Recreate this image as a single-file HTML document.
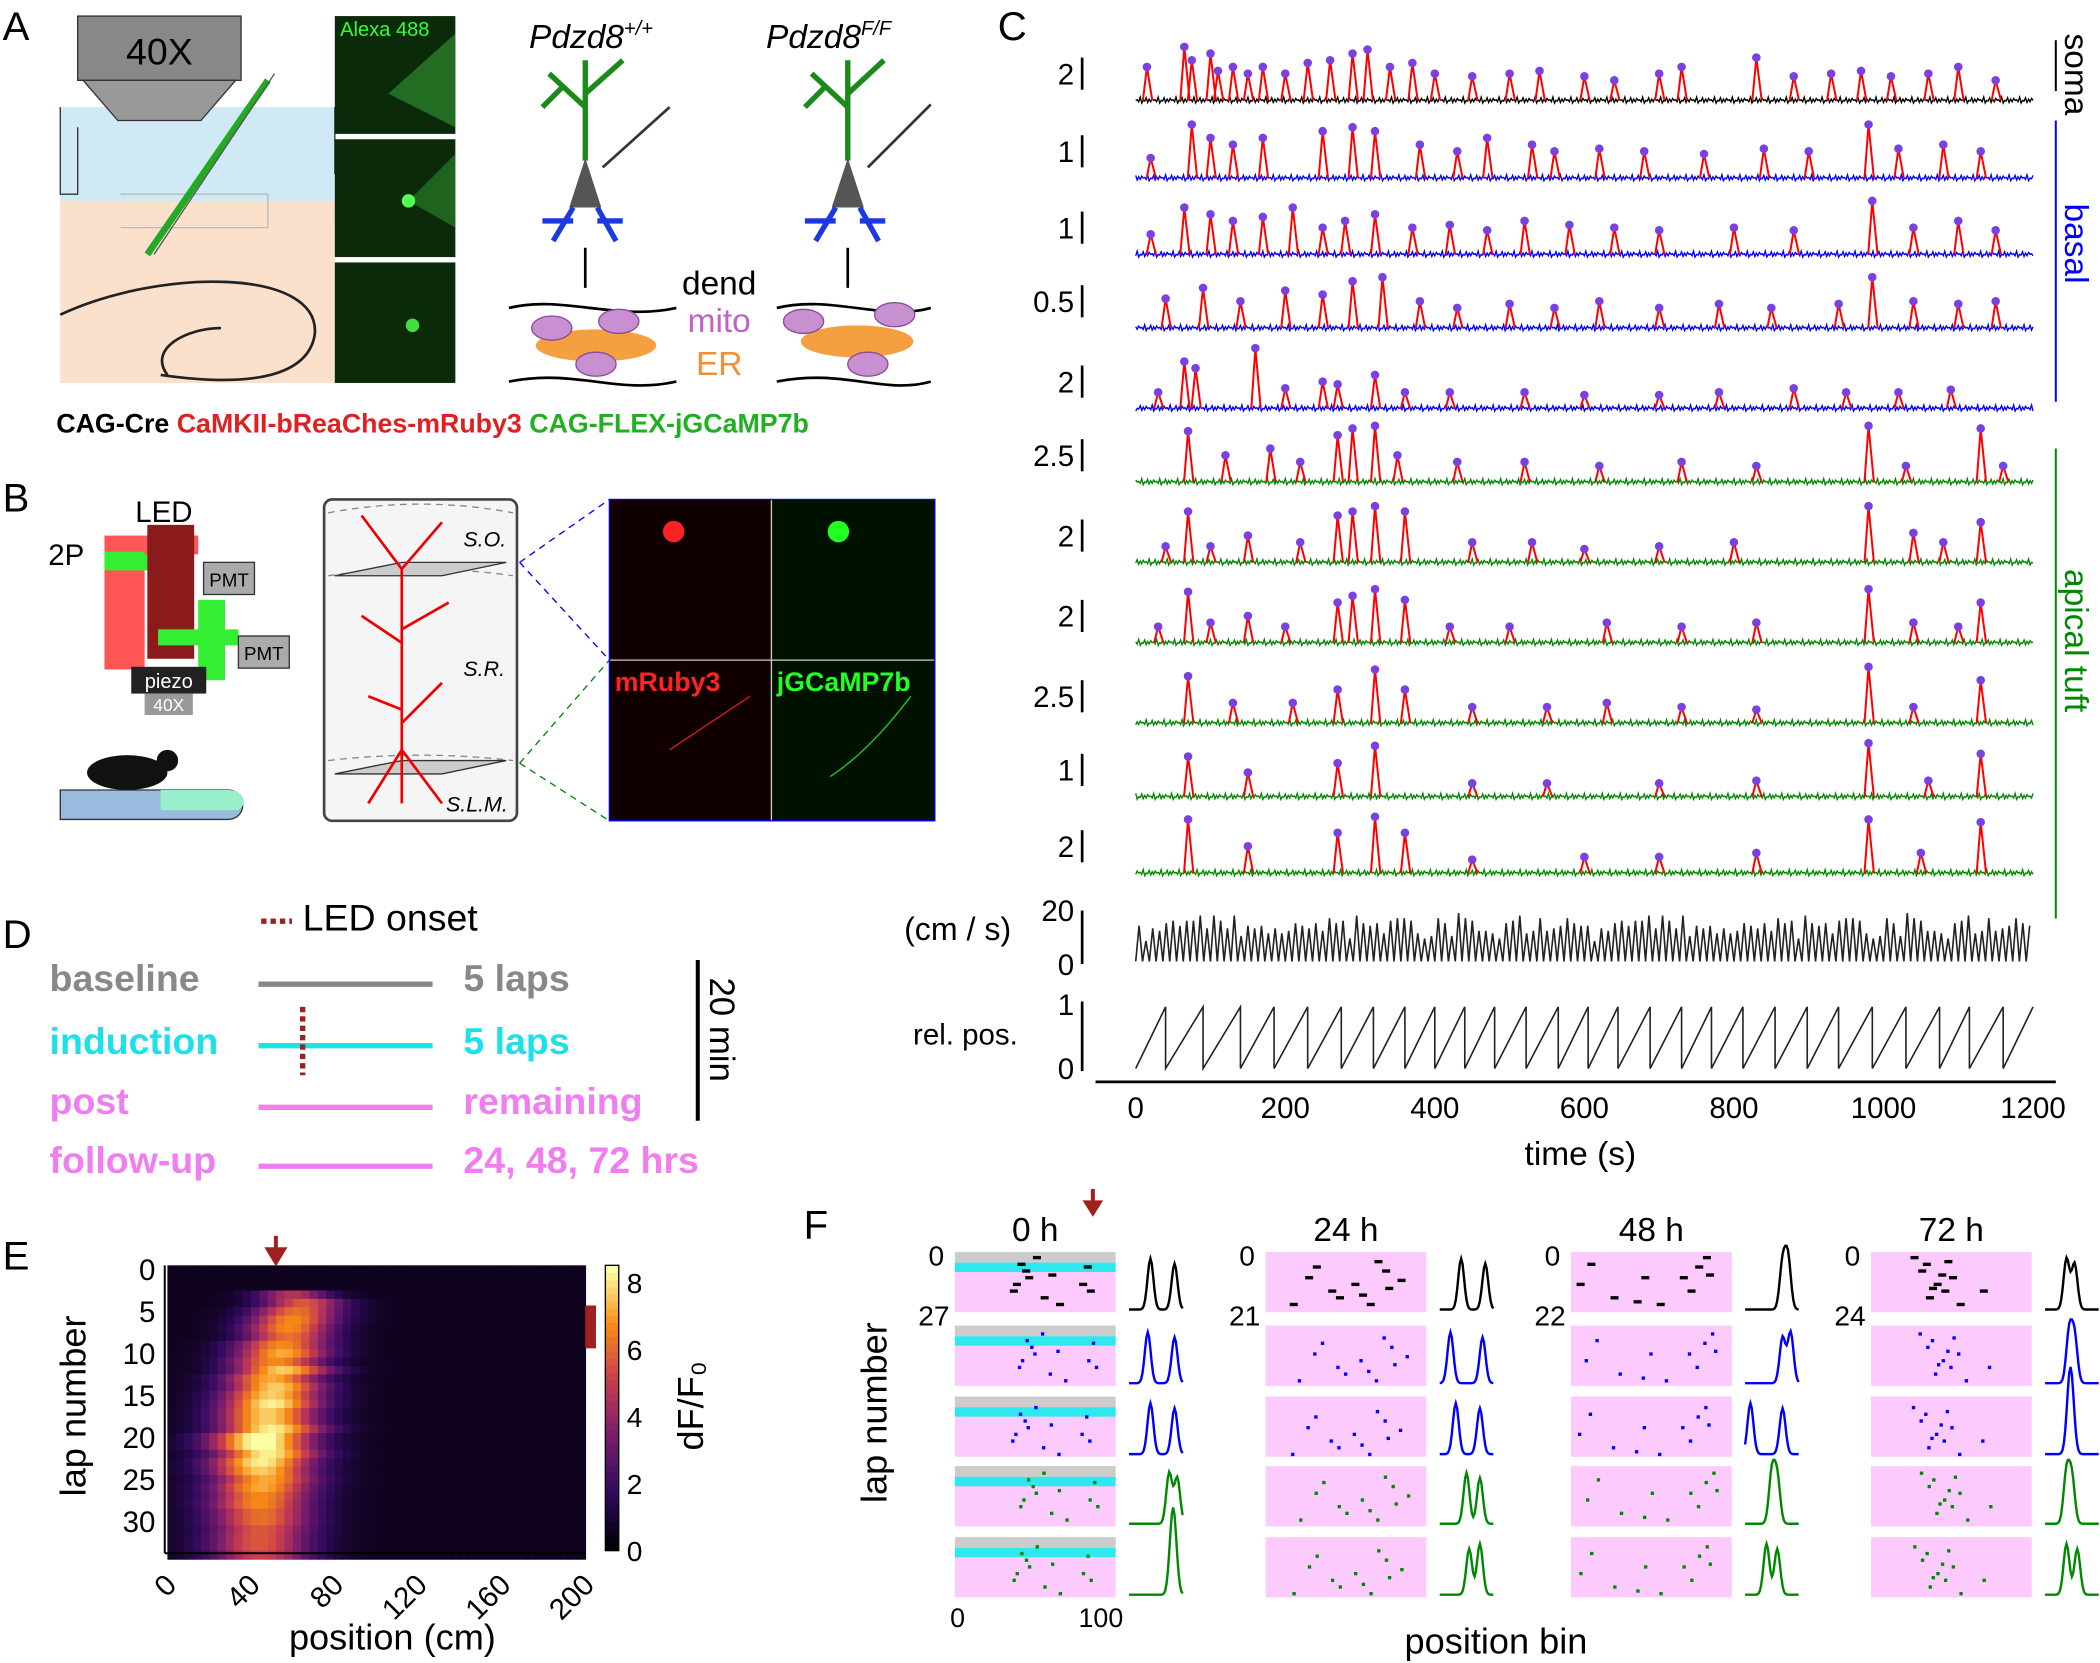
<!DOCTYPE html>
<html><head><meta charset="utf-8">
<style>
html,body{margin:0;padding:0;background:#fff;}
svg{display:block;font-family:"Liberation Sans",Arial,sans-serif;}
</style></head>
<body>
<svg id="fig" width="2100" height="1663" viewBox="0 0 1568 1242" preserveAspectRatio="none" xmlns="http://www.w3.org/2000/svg">
<g font-size="30">
<text x="2" y="30">A</text><text x="745" y="30">C</text><text x="2" y="382">B</text>
<text x="2" y="708">D</text><text x="2" y="948">E</text><text x="600" y="925">F</text>
</g>

<g>
<rect x="45" y="80" width="205" height="85" fill="#cfe9f5"/>
<rect x="45" y="150" width="205" height="136" fill="#fbe0cc"/>
<path d="M45 80 L45 145 L58 145 L58 95 M250 80 L250 130" stroke="#333" fill="none"/>
<rect x="58" y="12" width="122" height="48" fill="#888" stroke="#333"/>
<path d="M62 60 L176 60 L150 90 L88 90 Z" fill="#999" stroke="#333"/>
<text x="119" y="48" font-size="28" text-anchor="middle">40X</text>
<path d="M90 145 L200 145 L200 170 L90 170" fill="none" stroke="#bbb"/>
<path d="M45 235 C120 200 240 200 235 250 C230 280 190 290 120 280 M125 280 C110 260 140 245 165 245" stroke="#222" fill="none" stroke-width="2"/>
<line x1="110" y1="190" x2="200" y2="60" stroke="#2a2" stroke-width="5"/>
<line x1="115" y1="190" x2="205" y2="55" stroke="#555" stroke-width="1"/>
</g>
<g>
<rect x="250" y="12" width="90" height="88" fill="#0a2a0a"/>
<rect x="250" y="104" width="90" height="88" fill="#0a2a0a"/>
<rect x="250" y="196" width="90" height="90" fill="#0a2a0a"/>
<path d="M290 70 L340 25 L340 95 Z" fill="#2c8a2c" opacity="0.7"/>
<path d="M305 150 L340 115 L340 170 Z" fill="#2c8a2c" opacity="0.6"/>
<circle cx="305" cy="150" r="5" fill="#5f5"/><circle cx="308" cy="243" r="5" fill="#4d4"/>
<text x="254" y="27" font-size="15" fill="#3f3">Alexa 488</text>
</g>
<g font-size="25" font-style="italic">
<text x="395" y="36">Pdzd8<tspan font-size="15" dy="-10">+/+</tspan></text>
<text x="572" y="36">Pdzd8<tspan font-size="15" dy="-10">F/F</tspan></text>
<g stroke="#1a8a1a" stroke-width="4" fill="none"><path d="M437 120 L437 45 M437 80 L410 55 M437 70 L465 45 M420 65 L405 80"/><path d="M633 120 L633 45 M633 80 L606 55 M633 70 L660 45 M616 65 L601 80"/></g>
<path d="M425 155 L437 118 L449 155 Z M621 155 L633 118 L645 155 Z" fill="#555"/>
<g stroke="#1a3ae0" stroke-width="4" fill="none"><path d="M428 155 L413 180 M428 165 L405 165 M446 155 L460 180 M446 165 L465 165"/><path d="M624 155 L609 180 M624 165 L601 165 M642 155 L656 180 M642 165 L661 165"/></g>
<path d="M450 125 L500 80 M648 125 L695 78" stroke="#333" stroke-width="2"/>
<path d="M437 185 L437 215 M633 185 L633 215" stroke="#000" stroke-width="2"/>
<path d="M380 230 C420 220 460 240 505 230 M380 285 C430 275 460 295 505 285 M580 230 C620 220 660 240 695 230 M580 285 C630 275 660 295 695 285" stroke="#000" stroke-width="2" fill="none"/>
<ellipse cx="445" cy="258" rx="45" ry="12" fill="#f5a040"/><ellipse cx="640" cy="255" rx="42" ry="12" fill="#f5a040"/>
<g fill="#c890d0" stroke="#8a4a9a"><ellipse cx="412" cy="245" rx="15" ry="9"/><ellipse cx="462" cy="240" rx="15" ry="9"/><ellipse cx="445" cy="272" rx="15" ry="9"/><ellipse cx="600" cy="240" rx="15" ry="9"/><ellipse cx="668" cy="235" rx="15" ry="9"/><ellipse cx="648" cy="272" rx="15" ry="9"/></g>
<text x="537" y="220" font-style="normal" text-anchor="middle">dend</text>
<text x="537" y="248" font-style="normal" text-anchor="middle" fill="#c060c8">mito</text>
<text x="537" y="280" font-style="normal" text-anchor="middle" fill="#f59030">ER</text>
</g>
<text x="42" y="323" font-size="20" font-weight="bold"><tspan fill="#000">CAG-Cre </tspan><tspan fill="#e02020">CaMKII-bReaChes-mRuby3 </tspan><tspan fill="#20b020">CAG-FLEX-jGCaMP7b</tspan></text>

<g>
<rect x="78" y="400" width="30" height="100" fill="#f55"/><rect x="78" y="412" width="45" height="14" fill="#3e3"/>
<rect x="108" y="400" width="40" height="14" fill="#f55"/><rect x="148" y="448" width="20" height="60" fill="#3e3"/>
<rect x="110" y="392" width="35" height="100" fill="#8b1a1a"/>
<rect x="118" y="470" width="60" height="12" fill="#3e3"/>
<rect x="152" y="420" width="38" height="24" fill="#aaa" stroke="#333"/><text x="171" y="438" font-size="14" text-anchor="middle">PMT</text>
<rect x="178" y="475" width="38" height="24" fill="#aaa" stroke="#333"/><text x="197" y="493" font-size="14" text-anchor="middle">PMT</text>
<rect x="98" y="498" width="56" height="20" fill="#222"/><text x="126" y="514" font-size="15" fill="#fff" text-anchor="middle">piezo</text>
<rect x="108" y="518" width="36" height="16" fill="#999"/><text x="126" y="531" font-size="13" fill="#fff" text-anchor="middle">40X</text>
<text x="101" y="390" font-size="22">LED</text><text x="36" y="422" font-size="22">2P</text>
<path d="M45 590 L170 590 C185 590 185 612 170 612 L45 612 Z" fill="#9bd" stroke="#333"/>
<path d="M120 590 L170 590 C185 590 185 605 175 605 L120 605Z" fill="#9ec"/>
<ellipse cx="95" cy="577" rx="30" ry="13" fill="#111"/><circle cx="125" cy="568" r="8" fill="#111"/>
</g>
<g>
<rect x="242" y="373" width="144" height="240" rx="6" fill="#f5f5f5" stroke="#444" stroke-width="2"/>
<path d="M245 383 Q314 370 383 383 M245 430 Q314 420 383 430 M245 568 Q314 560 383 568" stroke="#888" stroke-dasharray="5,4" fill="none"/>
<path d="M250 430 L300 420 L378 420 L330 430 Z" fill="#ccc" stroke="#333"/>
<path d="M250 578 L300 568 L378 568 L330 578 Z" fill="#ccc" stroke="#333"/>
<g stroke="#e00" stroke-width="2" fill="none"><path d="M300 425 L300 600 M300 425 L270 385 M300 425 L330 390 M300 480 L270 460 M300 470 L335 450 M300 530 L275 520 M300 540 L330 510 M300 560 L275 600 M300 560 L330 600"/></g>
<g font-size="16" font-style="italic"><text x="346" y="408">S.O.</text><text x="346" y="505">S.R.</text><text x="333" y="606">S.L.M.</text></g>
<path d="M388 420 L455 373 M388 420 L455 493" stroke="#00f" stroke-dasharray="5,4"/>
<path d="M388 570 L455 493 M388 570 L455 613" stroke="#080" stroke-dasharray="5,4"/>
</g>
<g>
<rect x="455" y="373" width="243" height="240" fill="#100"/>
<rect x="577" y="373" width="121" height="240" fill="#010"/>
<line x1="576" y1="373" x2="576" y2="613" stroke="#ccc"/><line x1="455" y1="493" x2="698" y2="493" stroke="#ccc"/>
<rect x="455" y="373" width="243" height="240" fill="none" stroke="#00f" stroke-width="1"/>
<circle cx="503" cy="397" r="8" fill="#f22"/><circle cx="626" cy="397" r="8" fill="#2f2"/>
<path d="M500 560 Q530 540 560 520" stroke="#c22" fill="none"/><path d="M620 580 Q650 560 680 520" stroke="#2c2" fill="none"/>
<text x="459" y="516" font-size="20" font-weight="bold" fill="#f22">mRuby3</text>
<text x="580" y="516" font-size="20" font-weight="bold" fill="#2f2">jGCaMP7b</text>
</g>

<g font-size="28" font-weight="bold">
<line x1="195" y1="688" x2="218" y2="688" stroke="#a02020" stroke-width="4" stroke-dasharray="4,3"/>
<text x="226" y="695" font-weight="normal" font-size="28">LED onset</text>
<text x="37" y="740" fill="#888">baseline</text><line x1="193" y1="735" x2="323" y2="735" stroke="#888" stroke-width="4"/><text x="346" y="740" fill="#888">5 laps</text>
<text x="37" y="787" fill="#1de0e8">induction</text><line x1="193" y1="781" x2="323" y2="781" stroke="#1de0e8" stroke-width="4"/><text x="346" y="787" fill="#1de0e8">5 laps</text>
<line x1="226" y1="752" x2="226" y2="803" stroke="#a02020" stroke-width="4" stroke-dasharray="4,3"/>
<text x="37" y="832" fill="#f07ef0">post</text><line x1="193" y1="827" x2="323" y2="827" stroke="#f07ef0" stroke-width="4"/><text x="346" y="832" fill="#f07ef0">remaining</text>
<text x="37" y="876" fill="#f07ef0">follow-up</text><line x1="193" y1="871" x2="323" y2="871" stroke="#f07ef0" stroke-width="4"/><text x="346" y="876" fill="#f07ef0">24, 48, 72 hrs</text>
<line x1="521" y1="717" x2="521" y2="837" stroke="#000" stroke-width="3"/>
<text x="0" y="0" font-weight="normal" font-size="26" transform="translate(530,730) rotate(90)">20 min</text>
</g>

<g id="panelC"></g>
<g id="panelE"></g>
<g id="panelF"></g>
</svg>
<script>
const NS="http://www.w3.org/2000/svg";
function el(tag,attrs,parent,txt){const e=document.createElementNS(NS,tag);for(const k in attrs)e.setAttribute(k,attrs[k]);if(txt!==undefined)e.textContent=txt;parent.appendChild(e);return e;}

const timeTicks=[0,200,400,600,800,1000,1200];
const traceColors=["#000","#00f","#00f","#00f","#00f","#080","#080","#080","#080","#080","#080"];
const scaleLabels=["2","1","1","0.5","2","2.5","2","2","2.5","1","2"];
const peaksSoma=[[15,25],[65,40],[75,30],[100,35],[110,22],[130,25],[150,20],[170,25],[200,20],[230,28],[260,30],[290,35],[310,38],[340,25],[370,28],[400,20],[450,18],[500,20],[540,22],[600,18],[640,15],[700,20],[730,25],[830,32],[880,18],[930,20],[970,22],[1010,18],[1060,20],[1100,25],[1150,15]];
const peaksB1=[[20,15],[75,40],[100,30],[130,25],[170,30],[250,35],[290,38],[320,35],[380,25],[430,20],[470,30],[530,25],[560,20],[620,22],[680,20],[760,18],[840,22],[900,20],[980,40],[1020,22],[1080,25],[1130,20]];
const peaksB2=[[20,15],[65,35],[100,30],[130,25],[170,28],[210,35],[250,20],[280,25],[320,30],[370,20],[420,22],[470,18],[520,25],[580,22],[640,20],[700,18],[800,20],[880,18],[985,40],[1040,20],[1100,25],[1150,18]];
const peaksB3=[[40,22],[90,30],[140,20],[200,28],[250,25],[290,35],[330,38],[380,20],[430,15],[500,18],[560,15],[620,20],[700,15],[780,18],[850,15],[940,18],[985,38],[1040,20],[1100,18],[1150,20]];
const peaksB4=[[30,12],[65,35],[80,30],[160,45],[200,15],[250,20],[270,18],[320,25],[360,12],[420,12],[520,12],[600,10],[700,10],[780,12],[880,15],[950,12],[1020,12],[1090,14]];
const peaksA1=[[70,38],[120,20],[180,25],[220,15],[270,35],[290,40],[320,42],[350,20],[430,15],[520,15],[620,12],[730,15],[830,12],[980,42],[1030,12],[1130,40],[1160,12]];
const peaksA2=[[40,12],[70,38],[100,12],[150,20],[220,15],[270,35],[290,38],[320,42],[360,38],[450,15],[530,15],[600,10],[700,12],[800,15],[980,42],[1040,22],[1080,15],[1130,30]];
const peaksA3=[[30,12],[70,38],[100,15],[150,20],[200,12],[270,30],[290,35],[320,40],[360,32],[420,12],[500,12],[630,15],[730,12],[830,15],[980,40],[1040,15],[1100,12],[1130,30]];
const peaksA4=[[70,35],[130,15],[210,15],[270,25],[320,40],[360,25],[450,12],[550,12],[630,15],[730,12],[830,10],[980,42],[1040,12],[1130,32]];
const peaksA5=[[70,30],[150,18],[270,25],[320,38],[450,10],[550,10],[700,10],[830,12],[980,40],[1060,12],[1130,32]];
const peaksA6=[[70,40],[150,20],[270,30],[320,42],[360,30],[450,10],[600,12],[700,12],[830,15],[980,40],[1050,15],[1130,38]];
const allPeaks=[peaksSoma,peaksB1,peaksB2,peaksB3,peaksB4,peaksA1,peaksA2,peaksA3,peaksA4,peaksA5,peaksA6];
const traceBaselines=[75,133,190,245,305,360,420,480,540,595,652];
const speedVals=[14,9,16,12,18,8,15,11,17,10,13,16,9,15,14,12,18,10,16,13,15,11,17,9,14,16,12,15,18,11,14,17,10,15,13,16,12,19,14,11,16,13,17,15,12,18,14,16,11,15,13,17,12,16,14,18,15,12,17,13,16,14,11,17,15,13];
const lapEnds=[40,90,140,185,230,275,318,360,400,440,480,522,565,605,645,688,730,770,812,855,898,940,985,1030,1075,1115,1160,1200];

const C=document.getElementById('panelC');
const tx=t=>848+t*(1518-848)/1200;
el('line',{x1:818,y1:808,x2:1535,y2:808,stroke:'#000','stroke-width':2},C);
timeTicks.forEach(t=>{const g=el('text',{x:tx(t),y:835,'font-size':22,'text-anchor':'middle'},C,String(t));});
el('text',{x:1180,y:870,'font-size':25,'text-anchor':'middle'},C,'time (s)');
const jit=[0,-2,1,-1,2,-1.5,0.5,-0.5,1.5,-2.5,1,0];
allPeaks.forEach((pk,i)=>{
  const b=traceBaselines[i];
  let d='';const sorted=pk.slice().sort((a,c)=>a[0]-c[0]);
  let k=0;for(let t=0;t<=1200;t+=2,k++){d+=(t?'L':'M')+tx(t).toFixed(1)+' '+(b+jit[(k*7+i)%jit.length])+' ';}
  const p=el('path',{d:d,stroke:traceColors[i],fill:'none','stroke-width':1},C);
  
  sorted.forEach(([t,a])=>{
    const x=tx(t);
    el('path',{d:`M${x-3} ${b} L${x} ${b-a} L${x+4} ${b}`,stroke:'#f00',fill:'none','stroke-width':1.5},C);
    const c=el('circle',{cx:x,cy:b-a,r:3.2,fill:'#7a40e0'},C);
    
  });
  el('line',{x1:808,y1:b-32,x2:808,y2:b-8,stroke:'#000','stroke-width':2},C);
  el('text',{x:802,y:b-12,'font-size':22,'text-anchor':'end'},C,scaleLabels[i]);
});
el('line',{x1:1535,y1:90,x2:1535,y2:300,stroke:'#00f','stroke-width':1.5},C);
el('line',{x1:1535,y1:335,x2:1535,y2:686,stroke:'#080','stroke-width':1.5},C);
el('line',{x1:1535,y1:30,x2:1535,y2:68,stroke:'#000','stroke-width':1.5},C);
el('text',{transform:'translate(1542,25) rotate(90)','font-size':25},C,'soma');
el('text',{transform:'translate(1542,152) rotate(90)','font-size':25,fill:'#00f'},C,'basal');
el('text',{transform:'translate(1542,425) rotate(90)','font-size':25,fill:'#080'},C,'apical tuft');
{let d='';const n=speedVals.length*2;for(let i=0;i<n;i++){const v=speedVals[(i*5)%speedVals.length];const t=i*1200/n;d+=`${i?'L':'M'}${tx(t).toFixed(1)} 718 L${tx(t+1200/n/2).toFixed(1)} ${718-v*1.9} `;}
const p=el('path',{d:d,stroke:'#222',fill:'none','stroke-width':1.2},C);
el('line',{x1:808,y1:680,x2:808,y2:720,stroke:'#000','stroke-width':2},C);
el('text',{x:802,y:688,'font-size':22,'text-anchor':'end'},C,'20');el('text',{x:802,y:728,'font-size':22,'text-anchor':'end'},C,'0');
el('text',{x:755,y:702,'font-size':24,'text-anchor':'end'},C,'(cm / s)');}
{let d='';let prev=0;lapEnds.forEach((e,i)=>{d+=`${i?'L':'M'}${tx(prev).toFixed(1)} 798 L${tx(e).toFixed(1)} 752 `;prev=e;});
const p=el('path',{d:d,stroke:'#222',fill:'none','stroke-width':1.2},C);
el('line',{x1:808,y1:748,x2:808,y2:800,stroke:'#000','stroke-width':2},C);
el('text',{x:802,y:758,'font-size':22,'text-anchor':'end'},C,'1');el('text',{x:802,y:806,'font-size':22,'text-anchor':'end'},C,'0');
el('text',{x:760,y:780,'font-size':22,'text-anchor':'end'},C,'rel. pos.');}

const lapCenters=[0,0,0,60,65,62,60,58,58,55,55,52,55,50,52,50,50,48,48,50,45,45,48,45,45,47,45,45,44,45,45,45,44,44,45];
const lapAmps=[0,0,0,4,5,5.5,6,6,5.5,6,6.5,6,7,6.5,7,7,7.5,7,7,7.5,8,8,7.5,7.5,7,6.5,6.5,6,6,5.5,5.5,5,5,5,4.5];
const lapWidths=[1,1,1,25,28,30,30,30,30,32,32,32,33,33,33,34,34,34,34,35,35,35,35,35,35,35,35,35,35,35,35,35,35,35,35];
const posTicks=[0,40,80,120,160,200];
const cbTicks=[0,2,4,6,8];
const E=document.getElementById('panelE');
const ex=p=>125+p*(437-125)/200, ey=l=>945+l*(1158-945)/34;
function cmap(v){const s=[[0,[0,0,4]],[0.2,[50,10,95]],[0.4,[120,28,109]],[0.6,[200,60,80]],[0.8,[248,140,20]],[1,[252,255,164]]];v=Math.max(0,Math.min(1,v));for(let i=1;i<s.length;i++){if(v<=s[i][0]){const f=(v-s[i-1][0])/(s[i][0]-s[i-1][0]);const a=s[i-1][1],b=s[i][1];return `rgb(${a.map((c,k)=>Math.round(c+(b[k]-c)*f)).join(',')})`;}}return 'rgb(252,255,164)';}
const nb=50;
lapCenters.forEach((c,l)=>{for(let j=0;j<nb;j++){const p=(j+0.5)*200/nb;const v=lapAmps[l]*Math.exp(-((p-c)**2)/(2*(lapWidths[l]/2)**2))+0.5;
 const r=el('rect',{x:ex(j*200/nb),y:ey(l),width:(437-125)/nb+0.6,height:(1158-945)/34+0.6,fill:cmap(v/8.2)},E);}});
el('line',{x1:123,y1:945,x2:123,y2:1160,stroke:'#000','stroke-width':1.5},E);el('line',{x1:123,y1:1160,x2:437,y2:1160,stroke:'#000','stroke-width':1.5},E);
[0,5,10,15,20,25,30].forEach(l=>{el('text',{x:116,y:ey(l+0.5)+8,'font-size':22,'text-anchor':'end'},E,String(l));});
posTicks.forEach(p=>{el('text',{transform:`translate(${ex(p)+8},${1185}) rotate(-45)`,'font-size':22,'text-anchor':'end'},E,String(p));});
el('text',{x:293,y:1232,'font-size':27,'text-anchor':'middle'},E,'position (cm)');
el('text',{transform:'translate(64,1050) rotate(-90)','font-size':27,'text-anchor':'middle'},E,'lap number');
el('path',{d:'M206 923 L206 935 M200 933 L206 943 L212 933 Z',stroke:'#a02020',fill:'#a02020','stroke-width':3},E);
el('rect',{x:437,y:975,width:8,height:32,fill:'#a02020'},E);
for(let i=0;i<40;i++){el('rect',{x:452,y:1158-(i+1)*213/40,width:10,height:213/40+0.5,fill:cmap(i/39)},E);}
el('rect',{x:452,y:945,width:10,height:213,fill:'none',stroke:'#000'},E);
cbTicks.forEach(v=>{el('text',{x:468,y:1158-v*213/8.5+8,'font-size':21},E,String(v));});
el('text',{transform:'translate(525,1050) rotate(-90)','font-size':27,'text-anchor':'middle'},E,'dF/F\u2080');

const fCols=[713,945,1173,1397];
const fTitles=['0 h','24 h','48 h','72 h'];
const fLapMax=['27','21','22','24'];
const fRowY=[935,990,1043,1095,1148];
const fRowColors=['#000','#00f','#00f','#080','#080'];
const fFieldBins=[[[40,85],[35,85],[40,85],[75,90],[80,85]],[[40,85],[20,80],[30,75],[50,75],[75,55]],[[80,70],[85,70],[10,70],[50,60],[40,60]],[[40,55],[45,55],[45,50],[40,50],[40,60]]];
const fDots=[
 [[45,10],[50,20],[40,30],[60,35],[85,25],[90,30],[70,40],[55,5],[48,15],[88,12],[42,25],[65,18]],
 [[30,20],[45,30],[60,25],[80,15],[50,35],[70,40],[20,40],[75,8],[82,28],[35,12],[65,33],[90,22]],
 [[15,10],[50,20],[80,30],[90,5],[60,40],[30,35],[85,12],[75,20],[8,25],[45,38],[92,18]],
 [[35,15],[45,25],[40,35],[55,20],[50,30],[30,5],[60,40],[75,30],[38,10],[48,18],[42,28],[52,8]]];
const F=document.getElementById('panelF');
el('text',{transform:'translate(662,1055) rotate(-90)','font-size':27,'text-anchor':'middle'},F,'lap number');
el('text',{x:1117,y:1235,'font-size':27,'text-anchor':'middle'},F,'position bin');
el('text',{x:715,y:1215,'font-size':20,'text-anchor':'middle'},F,'0');el('text',{x:822,y:1215,'font-size':20,'text-anchor':'middle'},F,'100');
el('path',{d:'M816 888 L816 900 M811 898 L816 906 L821 898 Z',stroke:'#a02020',fill:'#a02020','stroke-width':3},F);
fCols.forEach((x0,ci)=>{
 el('text',{x:x0+60,y:927,'font-size':25,'text-anchor':'middle'},F,fTitles[ci]);
 el('text',{x:x0-8,y:945,'font-size':21,'text-anchor':'end'},F,'0');
 el('text',{x:x0-4,y:990,'font-size':21,'text-anchor':'end'},F,fLapMax[ci]);
 fRowY.forEach((y,ri)=>{
  const r=el('rect',{x:x0,y:y,width:120,height:45,fill:'#fccafc'},F);
  if(ci===0){el('rect',{x:x0,y:y,width:120,height:8,fill:'#ccc'},F);el('rect',{x:x0,y:y+8,width:120,height:7,fill:'#2ee8f0'},F);}
  fDots[ci].forEach(([b,l])=>{const w=ri===0?6:2.5;el('rect',{x:x0+b*1.15+((ri*17)%11)-5,y:y+l+((ri*7)%5)-2,width:w,height:2.5,fill:fRowColors[ri]},F);});
  const [c1,c2]=fFieldBins[ci][ri];let d='';
  for(let k=0;k<=40;k++){const b=k*2.5;const v=Math.exp(-((b-c1)**2)/60)+0.9*Math.exp(-((b-c2)**2)/60);d+=`${k?'L':'M'}${(x0+130+k).toFixed(1)} ${(y+43-v*38).toFixed(1)} `;}
  const p=el('path',{d:d,stroke:fRowColors[ri],fill:'none','stroke-width':1.8},F);
 });
});
</script>
</body></html>
